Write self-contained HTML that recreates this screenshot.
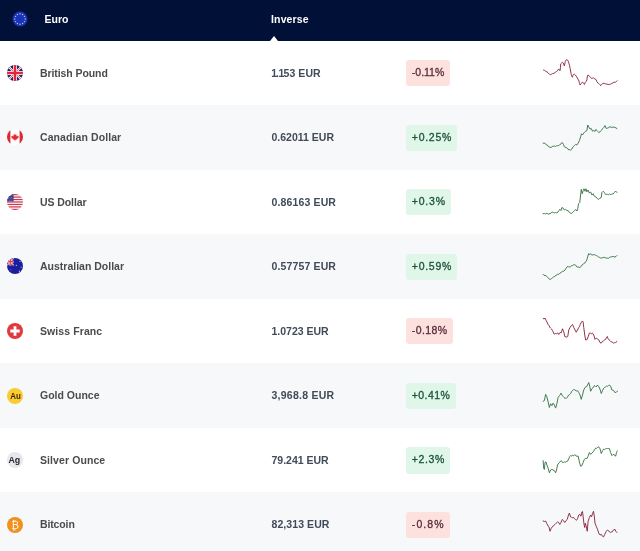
<!DOCTYPE html>
<html><head><meta charset="utf-8">
<style>
html,body{margin:0;padding:0;width:640px;height:551px;overflow:hidden;background:#fff;}
#w{position:absolute;left:0;top:0;width:640px;height:551px;overflow:hidden;background:#fff;will-change:transform;}
body{font-family:"Liberation Sans",Arial,sans-serif;position:relative;}
.hdr{position:absolute;left:0;top:0;width:640px;height:40.5px;background:#011036;}
.hdr .t{position:absolute;top:13.4px;color:#fff;font-weight:700;font-size:10.5px;line-height:12px;white-space:nowrap;}
.hdr .arrow{position:absolute;left:269.5px;top:35.5px;width:0;height:0;border-left:4.5px solid transparent;border-right:4.5px solid transparent;border-bottom:5px solid #fff;}
.row{position:absolute;left:0;width:640px;height:64.55px;}
.row.g{background:#f7f8fa;}
.flag{position:absolute;left:7.3px;top:24.25px;width:16px;height:16px;}
.flag svg{display:block;}
.name{position:absolute;left:40px;top:26.1px;color:#4b4b4b;font-weight:700;font-size:10.5px;line-height:12px;white-space:nowrap;}
.val{position:absolute;left:271.5px;top:26.1px;color:#404a5a;font-weight:700;font-size:10.5px;line-height:12px;white-space:nowrap;}
.badge{position:absolute;left:405.8px;top:19.6px;height:26.2px;border-radius:3px;box-sizing:border-box;padding:0 6px;font-size:10.5px;line-height:25.9px;font-weight:400;-webkit-text-stroke:0.3px currentColor;white-space:nowrap;}
.badge.dn{background:#fde1df;color:#5a2d3b;}
.badge.up{background:#dff6e9;color:#1d5236;}
svg.sp{position:absolute;left:0;top:0;}
</style></head><body><div id="w">
<div class="row" style="top:40.5px"><div class="flag"><svg width="16" height="16" viewBox="0 0 16 16"><defs><clipPath id="cuk"><circle cx="8" cy="8" r="8"/></clipPath></defs><g clip-path="url(#cuk)"><rect width="16" height="16" fill="#20276c"/><path d="M-1 -1L17 17M17 -1L-1 17" stroke="#fff" stroke-width="2"/><path d="M-1 -1L17 17M17 -1L-1 17" stroke="#d6283c" stroke-width=".7"/><path d="M8 0V16M0 8H16" stroke="#fff" stroke-width="4"/><path d="M8 0V16M0 8H16" stroke="#e3253c" stroke-width="2.6"/></g></svg></div><div class="name" style="letter-spacing:-0.08px">British Pound</div><div class="val" style="letter-spacing:0.05px"><span style="margin:0 -1.1px 0 -0.2px">1</span>.<span style="margin:0 -0.7px">1</span>53 EUR</div><div class="badge dn"><span style="letter-spacing:0px;margin-right:0px">-0.11%</span></div></div>
<div class="row g" style="top:105.05px"><div class="flag"><svg width="16" height="16" viewBox="0 0 16 16"><defs><clipPath id="cca"><circle cx="8" cy="8" r="8"/></clipPath></defs><g clip-path="url(#cca)"><rect width="16" height="16" fill="#fff"/><rect x="0" y="0" width="3.4" height="16" fill="#e0282f"/><rect x="12.6" y="0" width="3.4" height="16" fill="#e0282f"/><path d="M8 4.6L8.7 6L9.6 5.6L9.3 7.6L10.5 6.6L10.8 7.3L11.7 7.1L11.3 8.4L11.8 8.7L9.4 10.3L9.6 11L8.2 10.8V12.3H7.8V10.8L6.4 11L6.6 10.3L4.2 8.7L4.7 8.4L4.3 7.1L5.2 7.3L5.5 6.6L6.7 7.6L6.4 5.6L7.3 6Z" fill="#e52a34"/></g></svg></div><div class="name" style="letter-spacing:0.09px">Canadian Dollar</div><div class="val" style="letter-spacing:0px">0.62011 EUR</div><div class="badge up"><span style="letter-spacing:0.72px;margin-right:-0.72px">+0.25%</span></div></div>
<div class="row" style="top:169.6px"><div class="flag"><svg width="16" height="16" viewBox="0 0 16 16"><defs><clipPath id="cus"><circle cx="8" cy="8" r="8"/></clipPath></defs><g clip-path="url(#cus)"><rect width="16" height="16" fill="#fff"/><g fill="#c9364c"><rect y="0" width="16" height="1.23"/><rect y="2.46" width="16" height="1.23"/><rect y="4.92" width="16" height="1.23"/><rect y="7.38" width="16" height="1.23"/><rect y="9.84" width="16" height="1.23"/><rect y="12.3" width="16" height="1.23"/><rect y="14.77" width="16" height="1.23"/></g><rect width="6.6" height="7.38" fill="#3f3f8c"/><g fill="#fff" opacity=".7"><circle cx="1.5" cy="1.6" r=".35"/><circle cx="3.3" cy="1.6" r=".35"/><circle cx="5.1" cy="1.6" r=".35"/><circle cx="2.4" cy="3.2" r=".35"/><circle cx="4.2" cy="3.2" r=".35"/><circle cx="1.5" cy="4.8" r=".35"/><circle cx="3.3" cy="4.8" r=".35"/><circle cx="5.1" cy="4.8" r=".35"/><circle cx="2.4" cy="6.3" r=".35"/><circle cx="4.2" cy="6.3" r=".35"/></g></g></svg></div><div class="name" style="letter-spacing:-0.08px">US Dollar</div><div class="val" style="letter-spacing:0.14px">0.86163 EUR</div><div class="badge up"><span style="letter-spacing:0.78px;margin-right:-0.78px">+0.3%</span></div></div>
<div class="row g" style="top:234.14999999999998px"><div class="flag"><svg width="16" height="16" viewBox="0 0 16 16"><defs><clipPath id="cau"><circle cx="8" cy="8" r="8"/></clipPath></defs><g clip-path="url(#cau)"><rect width="16" height="16" fill="#1b1f9c"/><rect x="0" y="0" width="6.6" height="7.4" fill="#2a2f9e"/><path d="M0 0L6.6 7.4M6.6 0L0 7.4" stroke="#f4d6da" stroke-width="1.3"/><path d="M0 0L6.6 7.4M6.6 0L0 7.4" stroke="#e0424e" stroke-width=".5"/><path d="M3.3 0V7.4M0 3.7H6.6" stroke="#fbe3e5" stroke-width="2.1"/><path d="M3.3 0V7.4M0 3.7H6.6" stroke="#e23a48" stroke-width="1.2"/><g fill="#dfe3ff"><circle cx="9.3" cy="7.3" r=".6"/><circle cx="13" cy="3.2" r=".55"/><circle cx="14.1" cy="9" r=".55"/><circle cx="12.4" cy="13.2" r=".6"/><circle cx="3.8" cy="11.8" r=".6" opacity=".4"/></g></g></svg></div><div class="name" style="letter-spacing:0px">Australian Dollar</div><div class="val" style="letter-spacing:0.14px">0.57757 EUR</div><div class="badge up"><span style="letter-spacing:0.72px;margin-right:-0.72px">+0.59%</span></div></div>
<div class="row" style="top:298.7px"><div class="flag"><svg width="16" height="16" viewBox="0 0 16 16"><circle cx="8" cy="8" r="8" fill="#e03a3e"/><path d="M6.6 3.3H9.4V6.6H12.7V9.4H9.4V12.7H6.6V9.4H3.3V6.6H6.6Z" fill="#fff"/></svg></div><div class="name" style="letter-spacing:0.09px">Swiss Franc</div><div class="val" style="letter-spacing:0px">1.0723 EUR</div><div class="badge dn"><span style="letter-spacing:0.4px;margin-right:-0.4px">-0.18%</span></div></div>
<div class="row g" style="top:363.25px"><div class="flag"><svg width="16" height="16" viewBox="0 0 16 16"><circle cx="8" cy="8" r="8" fill="#fbcb32"/><text x="8.5" y="11.35" text-anchor="middle" font-family="Liberation Sans, Arial, sans-serif" font-weight="700" font-size="9.8" textLength="10.6" lengthAdjust="spacingAndGlyphs" fill="#3d2a05">Au</text></svg></div><div class="name" style="letter-spacing:0px">Gold Ounce</div><div class="val" style="letter-spacing:0.25px">3,968.8 EUR</div><div class="badge up"><span style="letter-spacing:0.42px;margin-right:-0.42px">+0.41%</span></div></div>
<div class="row" style="top:427.79999999999995px"><div class="flag"><svg width="16" height="16" viewBox="0 0 16 16"><circle cx="8" cy="8" r="8" fill="#e6e8ed"/><text x="7.3" y="11" text-anchor="middle" font-family="Liberation Sans, Arial, sans-serif" font-weight="700" font-size="8.8" fill="#26282d">Ag</text></svg></div><div class="name" style="letter-spacing:0.09px">Silver Ounce</div><div class="val" style="letter-spacing:0px">79.241 EUR</div><div class="badge up"><span style="letter-spacing:0.62px;margin-right:-0.62px">+2.3%</span></div></div>
<div class="row g" style="top:492.34999999999997px"><div class="flag"><svg width="16" height="16" viewBox="0 0 16 16"><circle cx="8" cy="8" r="8" fill="#f0901f"/><text x="8.2" y="11.7" text-anchor="middle" font-family="DejaVu Sans, sans-serif" font-weight="400" font-size="10.5" fill="#fff6ea">₿</text></svg></div><div class="name" style="letter-spacing:-0.13px">Bitcoin</div><div class="val" style="letter-spacing:0.08px">82,313 EUR</div><div class="badge dn"><span style="letter-spacing:1.1px;margin-right:-1.1px">-0.8%</span></div></div>
<svg class="sp" width="640" height="551" viewBox="0 0 640 551">
<path d="M543.56 70.06 L544.50 70.38 L545.75 71.31 L547.00 71.94 L548.25 73.00 L549.50 74.25 L550.44 74.75 L551.38 74.25 L552.62 73.62 L553.88 73.38 L555.12 72.38 L556.38 71.62 L557.31 71.00 L558.25 69.44 L558.88 69.12 L559.50 70.25 L560.12 70.69 L560.44 67.25 L560.75 63.81 L561.38 63.19 L562.00 62.75 L562.62 62.25 L563.25 62.88 L563.88 64.75 L564.38 65.88 L564.81 63.81 L565.25 61.62 L565.75 60.38 L566.69 59.75 L567.62 60.06 L568.25 61.31 L568.88 63.19 L569.50 65.38 L570.12 68.50 L570.62 71.00 L571.06 73.50 L571.50 75.38 L572.00 76.62 L572.50 77.25 L572.94 75.38 L573.56 74.44 L574.19 74.12 L574.81 74.44 L575.44 75.06 L576.06 76.00 L576.69 76.94 L577.31 77.88 L577.94 79.44 L578.56 79.75 L579.00 81.31 L579.50 83.50 L580.12 85.06 L581.25 83.50 L582.03 82.41 L582.81 82.25 L583.59 83.29 L584.38 84.44 L585.31 82.25 L586.25 81.31 L586.88 79.75 L587.50 75.38 L588.12 75.06 L589.38 76.31 L590.62 77.25 L591.56 78.50 L592.50 78.19 L593.44 77.88 L594.69 78.81 L595.94 79.44 L596.88 81.62 L597.81 82.88 L598.75 83.50 L600.00 84.75 L600.62 85.69 L601.56 84.44 L602.81 83.50 L604.06 83.19 L604.84 83.85 L605.62 83.81 L606.88 84.12 L608.12 84.44 L609.38 84.44 L610.62 84.12 L611.88 83.50 L613.12 82.56 L614.38 82.25 L615.62 82.12 L616.56 81.31 L617.19 80.69" fill="none" stroke="#88293d" stroke-width="0.95" stroke-linejoin="round" stroke-linecap="round"/>
<path d="M543.12 143.12 L543.96 143.44 L544.79 143.14 L545.62 143.75 L546.56 145.10 L547.50 145.25 L548.33 146.55 L549.17 146.71 L550.00 147.50 L550.94 147.40 L551.88 146.88 L552.81 146.19 L553.75 146.25 L554.69 146.01 L555.62 146.50 L556.56 145.79 L557.50 145.62 L558.44 145.56 L559.38 145.00 L560.62 144.38 L561.44 143.06 L562.25 142.50 L563.50 144.38 L564.25 146.55 L565.00 147.50 L565.94 147.25 L566.88 148.12 L567.81 148.66 L568.75 150.00 L569.69 149.59 L570.62 150.25 L571.44 149.54 L572.25 148.12 L573.00 147.01 L573.75 146.25 L574.69 145.28 L575.62 144.38 L576.88 145.00 L578.12 143.12 L579.38 140.62 L580.62 136.88 L581.50 133.75 L582.50 135.00 L583.75 133.12 L584.69 131.96 L585.62 131.25 L586.88 130.62 L587.75 125.00 L588.75 126.88 L590.00 129.00 L591.25 128.50 L592.50 131.25 L593.75 130.25 L594.75 131.50 L596.00 129.38 L596.75 130.49 L597.50 131.25 L598.75 132.50 L600.00 131.88 L601.25 130.62 L602.50 128.75 L603.75 127.50 L605.00 125.62 L606.25 128.50 L607.50 128.12 L608.75 127.50 L610.00 126.50 L611.25 127.50 L612.19 127.25 L613.12 127.25 L614.06 127.00 L615.00 127.50 L615.94 127.91 L616.88 128.50" fill="none" stroke="#3b7643" stroke-width="0.95" stroke-linejoin="round" stroke-linecap="round"/>
<path d="M543.12 213.75 L544.38 213.50 L545.62 214.00 L546.88 213.12 L548.12 214.38 L549.06 213.61 L550.00 213.75 L550.94 213.15 L551.88 212.25 L552.81 212.07 L553.75 212.75 L554.69 212.90 L555.62 212.50 L556.56 212.77 L557.50 212.75 L558.75 210.62 L560.00 209.38 L561.00 210.62 L561.88 207.50 L563.12 208.12 L564.38 210.00 L565.62 209.38 L566.88 210.62 L568.12 210.62 L569.38 212.50 L570.19 212.85 L571.00 213.50 L571.75 213.15 L572.50 212.50 L573.75 211.25 L574.50 210.59 L575.25 209.75 L576.06 209.78 L576.88 211.00 L577.75 208.75 L578.50 203.75 L579.75 202.50 L580.62 195.00 L581.25 189.38 L582.25 193.75 L583.12 190.62 L584.00 188.75 L585.00 191.25 L586.00 188.75 L586.88 191.88 L588.12 190.00 L589.38 193.12 L590.62 191.88 L591.88 195.00 L593.12 193.75 L594.38 196.25 L595.19 196.60 L596.00 196.88 L596.75 197.97 L597.50 198.75 L598.75 199.38 L600.00 198.12 L601.25 197.50 L601.88 192.50 L603.12 191.25 L604.38 192.50 L605.62 194.38 L606.56 194.40 L607.50 194.38 L608.44 194.68 L609.38 194.00 L610.31 194.49 L611.25 194.38 L612.19 194.03 L613.12 194.00 L614.38 192.50 L615.62 191.00 L616.88 192.50" fill="none" stroke="#3b7643" stroke-width="0.95" stroke-linejoin="round" stroke-linecap="round"/>
<path d="M543.12 274.38 L544.06 275.44 L545.00 275.25 L545.94 275.82 L546.88 276.50 L548.12 277.75 L548.94 278.85 L549.75 279.38 L550.50 279.37 L551.25 278.75 L552.50 277.75 L553.44 276.94 L554.38 276.88 L555.31 275.70 L556.25 275.62 L557.50 274.00 L558.75 274.38 L560.00 273.12 L560.94 272.63 L561.88 271.88 L562.81 271.07 L563.75 271.25 L565.00 270.00 L566.25 268.12 L567.00 267.03 L567.75 266.25 L568.56 267.07 L569.38 266.88 L570.31 266.92 L571.25 266.00 L572.00 265.32 L572.75 265.62 L573.75 264.64 L574.75 264.75 L575.50 265.01 L576.25 266.00 L577.19 267.05 L578.12 267.25 L578.94 266.88 L579.75 267.75 L580.50 266.64 L581.25 266.25 L582.19 264.80 L583.12 264.38 L583.94 263.27 L584.75 263.12 L586.00 261.25 L586.88 259.75 L587.75 256.25 L588.75 253.50 L589.75 254.75 L590.62 253.75 L591.88 255.00 L592.81 254.91 L593.75 254.75 L594.69 254.59 L595.62 255.25 L596.56 255.63 L597.50 256.25 L598.44 257.05 L599.38 257.25 L600.31 257.98 L601.25 258.12 L602.19 257.70 L603.12 257.50 L603.94 257.75 L604.75 257.25 L605.50 257.78 L606.25 258.12 L607.50 258.12 L608.44 258.24 L609.38 257.50 L610.31 256.92 L611.25 257.00 L612.19 256.58 L613.12 256.50 L614.06 256.85 L615.00 257.00 L616.25 256.25 L616.88 255.62" fill="none" stroke="#3b7643" stroke-width="0.95" stroke-linejoin="round" stroke-linecap="round"/>
<path d="M543.12 318.50 L544.06 318.91 L545.00 318.12 L546.25 320.62 L547.50 323.12 L548.25 324.86 L549.00 325.62 L549.81 327.18 L550.62 328.12 L551.56 329.02 L552.50 330.62 L553.25 332.09 L554.00 334.00 L554.81 334.03 L555.62 333.50 L556.44 333.71 L557.25 333.12 L558.00 333.12 L558.75 334.38 L560.00 332.50 L561.25 332.75 L562.50 328.75 L563.75 331.88 L565.00 336.88 L565.94 336.63 L566.88 337.25 L567.75 336.50 L568.75 330.00 L570.00 327.50 L571.25 325.62 L572.50 324.38 L573.75 327.50 L575.00 330.00 L576.25 332.25 L577.50 330.00 L578.75 327.50 L579.50 326.45 L580.25 324.38 L581.25 322.50 L582.25 321.00 L583.12 321.88 L583.75 327.50 L584.75 335.00 L585.62 340.00 L586.88 339.75 L588.12 336.88 L589.38 333.12 L590.31 332.94 L591.25 333.75 L592.50 333.12 L593.75 335.00 L595.00 339.38 L596.25 338.12 L597.50 338.75 L598.75 340.00 L600.00 342.50 L601.25 343.12 L602.50 341.25 L603.44 340.83 L604.38 340.00 L605.62 339.38 L606.44 337.72 L607.25 336.50 L608.12 338.75 L609.06 339.88 L610.00 340.62 L610.94 341.72 L611.88 341.88 L612.81 342.61 L613.75 343.12 L614.69 342.67 L615.62 342.50 L616.88 341.50" fill="none" stroke="#88293d" stroke-width="0.95" stroke-linejoin="round" stroke-linecap="round"/>
<path d="M543.12 401.25 L544.38 400.62 L545.62 394.38 L546.88 396.88 L548.12 401.88 L549.38 407.50 L550.62 403.75 L551.88 405.62 L553.12 403.12 L554.38 405.00 L555.62 408.12 L556.88 403.75 L558.12 397.50 L559.38 395.62 L560.19 394.87 L561.00 393.12 L562.25 395.62 L563.12 396.37 L564.00 397.50 L564.81 398.19 L565.62 398.12 L566.44 398.40 L567.25 397.50 L568.00 396.01 L568.75 395.00 L569.69 394.60 L570.62 393.50 L571.88 391.25 L572.69 390.29 L573.50 389.75 L574.25 389.44 L575.00 390.00 L576.25 391.00 L577.50 390.62 L578.75 392.50 L580.00 395.00 L581.25 399.38 L582.50 395.00 L583.75 390.00 L585.00 387.50 L585.75 386.99 L586.50 386.88 L587.50 385.00 L588.75 382.50 L589.75 386.25 L590.62 391.25 L591.88 388.75 L592.69 388.14 L593.50 386.88 L594.25 385.79 L595.00 385.62 L596.25 386.88 L597.50 385.00 L598.25 386.14 L599.00 386.88 L600.25 390.00 L601.25 393.50 L602.50 390.62 L603.75 388.12 L604.69 387.31 L605.62 386.88 L606.56 386.13 L607.50 386.25 L608.44 385.53 L609.38 385.00 L610.62 386.25 L611.88 390.00 L612.81 390.16 L613.75 390.62 L615.00 392.75 L615.75 392.26 L616.50 391.88 L617.50 391.25" fill="none" stroke="#3b7643" stroke-width="0.95" stroke-linejoin="round" stroke-linecap="round"/>
<path d="M543.12 460.62 L543.75 468.75 L544.38 469.38 L545.00 462.50 L546.00 461.88 L546.88 465.00 L548.12 468.12 L549.38 472.75 L550.62 470.00 L551.88 469.38 L553.12 470.00 L554.38 470.62 L555.62 472.75 L556.50 470.00 L557.50 465.00 L558.75 463.12 L560.00 461.88 L561.25 460.62 L562.50 462.50 L563.44 462.46 L564.38 461.88 L565.31 462.21 L566.25 461.50 L567.50 461.25 L568.75 458.75 L569.69 456.56 L570.62 455.62 L571.44 456.01 L572.25 455.25 L573.00 455.85 L573.75 455.62 L574.50 454.74 L575.25 455.00 L576.06 456.02 L576.88 456.25 L578.12 456.00 L579.38 461.88 L580.62 466.25 L581.88 465.62 L583.12 462.50 L584.38 459.38 L585.62 458.12 L586.88 458.75 L588.12 456.25 L589.38 452.50 L590.62 454.38 L591.88 453.12 L593.12 451.88 L594.38 450.00 L595.62 448.12 L596.44 448.33 L597.25 447.75 L598.00 446.91 L598.75 446.88 L600.00 448.75 L601.25 453.50 L602.50 450.62 L603.75 449.00 L604.69 449.49 L605.62 448.75 L606.56 448.45 L607.50 448.50 L608.44 448.44 L609.38 448.50 L610.62 452.50 L611.88 455.62 L613.12 454.38 L613.94 454.89 L614.75 455.00 L615.62 456.25 L616.50 452.50 L617.25 451.00" fill="none" stroke="#3b7643" stroke-width="0.95" stroke-linejoin="round" stroke-linecap="round"/>
<path d="M543.12 521.00 L544.38 521.50 L545.62 521.00 L546.88 523.75 L548.12 526.00 L549.00 526.88 L550.00 531.25 L551.00 528.75 L552.25 526.88 L553.00 525.92 L553.75 525.62 L555.00 524.38 L556.25 523.12 L557.50 521.88 L558.75 522.50 L559.75 524.38 L561.00 522.50 L562.25 519.38 L563.50 520.62 L564.75 522.50 L566.00 520.62 L567.25 519.38 L568.50 515.00 L569.38 513.12 L570.62 516.88 L571.44 517.29 L572.25 517.50 L573.00 518.11 L573.75 517.50 L574.50 518.64 L575.25 519.38 L576.50 520.25 L577.50 518.75 L578.75 515.00 L580.00 514.38 L581.00 516.25 L581.88 511.88 L582.50 511.50 L583.12 516.25 L584.00 524.38 L584.75 527.50 L585.25 523.12 L586.25 526.25 L587.25 531.25 L588.12 521.25 L589.38 517.50 L590.62 515.00 L591.50 516.88 L592.50 513.75 L593.50 511.25 L594.38 516.88 L595.00 523.12 L596.25 526.25 L597.50 529.38 L598.75 533.12 L600.00 535.00 L601.25 534.38 L602.50 536.25 L603.50 536.88 L604.75 534.38 L605.50 532.79 L606.25 531.25 L607.50 530.00 L608.50 530.62 L609.38 531.88 L610.62 532.50 L611.44 531.94 L612.25 531.88 L613.00 530.47 L613.75 530.00 L615.00 529.38 L616.00 531.50 L616.88 532.50" fill="none" stroke="#88293d" stroke-width="0.95" stroke-linejoin="round" stroke-linecap="round"/>
</svg>
<div class="hdr">
  <svg style="position:absolute;left:12px;top:10.6px" width="16" height="16" viewBox="0 0 16 16">
    <circle cx="8" cy="8" r="7.5" fill="#1a33b8"/>
    <g fill="#b4bce6"><circle cx="8.00" cy="2.80" r="0.72"/><circle cx="10.60" cy="3.50" r="0.72"/><circle cx="12.50" cy="5.40" r="0.72"/><circle cx="13.20" cy="8.00" r="0.72"/><circle cx="12.50" cy="10.60" r="0.72"/><circle cx="10.60" cy="12.50" r="0.72"/><circle cx="8.00" cy="13.20" r="0.72"/><circle cx="5.40" cy="12.50" r="0.72"/><circle cx="3.50" cy="10.60" r="0.72"/><circle cx="2.80" cy="8.00" r="0.72"/><circle cx="3.50" cy="5.40" r="0.72"/><circle cx="5.40" cy="3.50" r="0.72"/></g>
  </svg>
  <div class="t" style="left:44.5px">Euro</div>
  <div class="t" style="left:271px;letter-spacing:0.15px">Inverse</div>
  <div class="arrow"></div>
</div>
</div></body></html>
